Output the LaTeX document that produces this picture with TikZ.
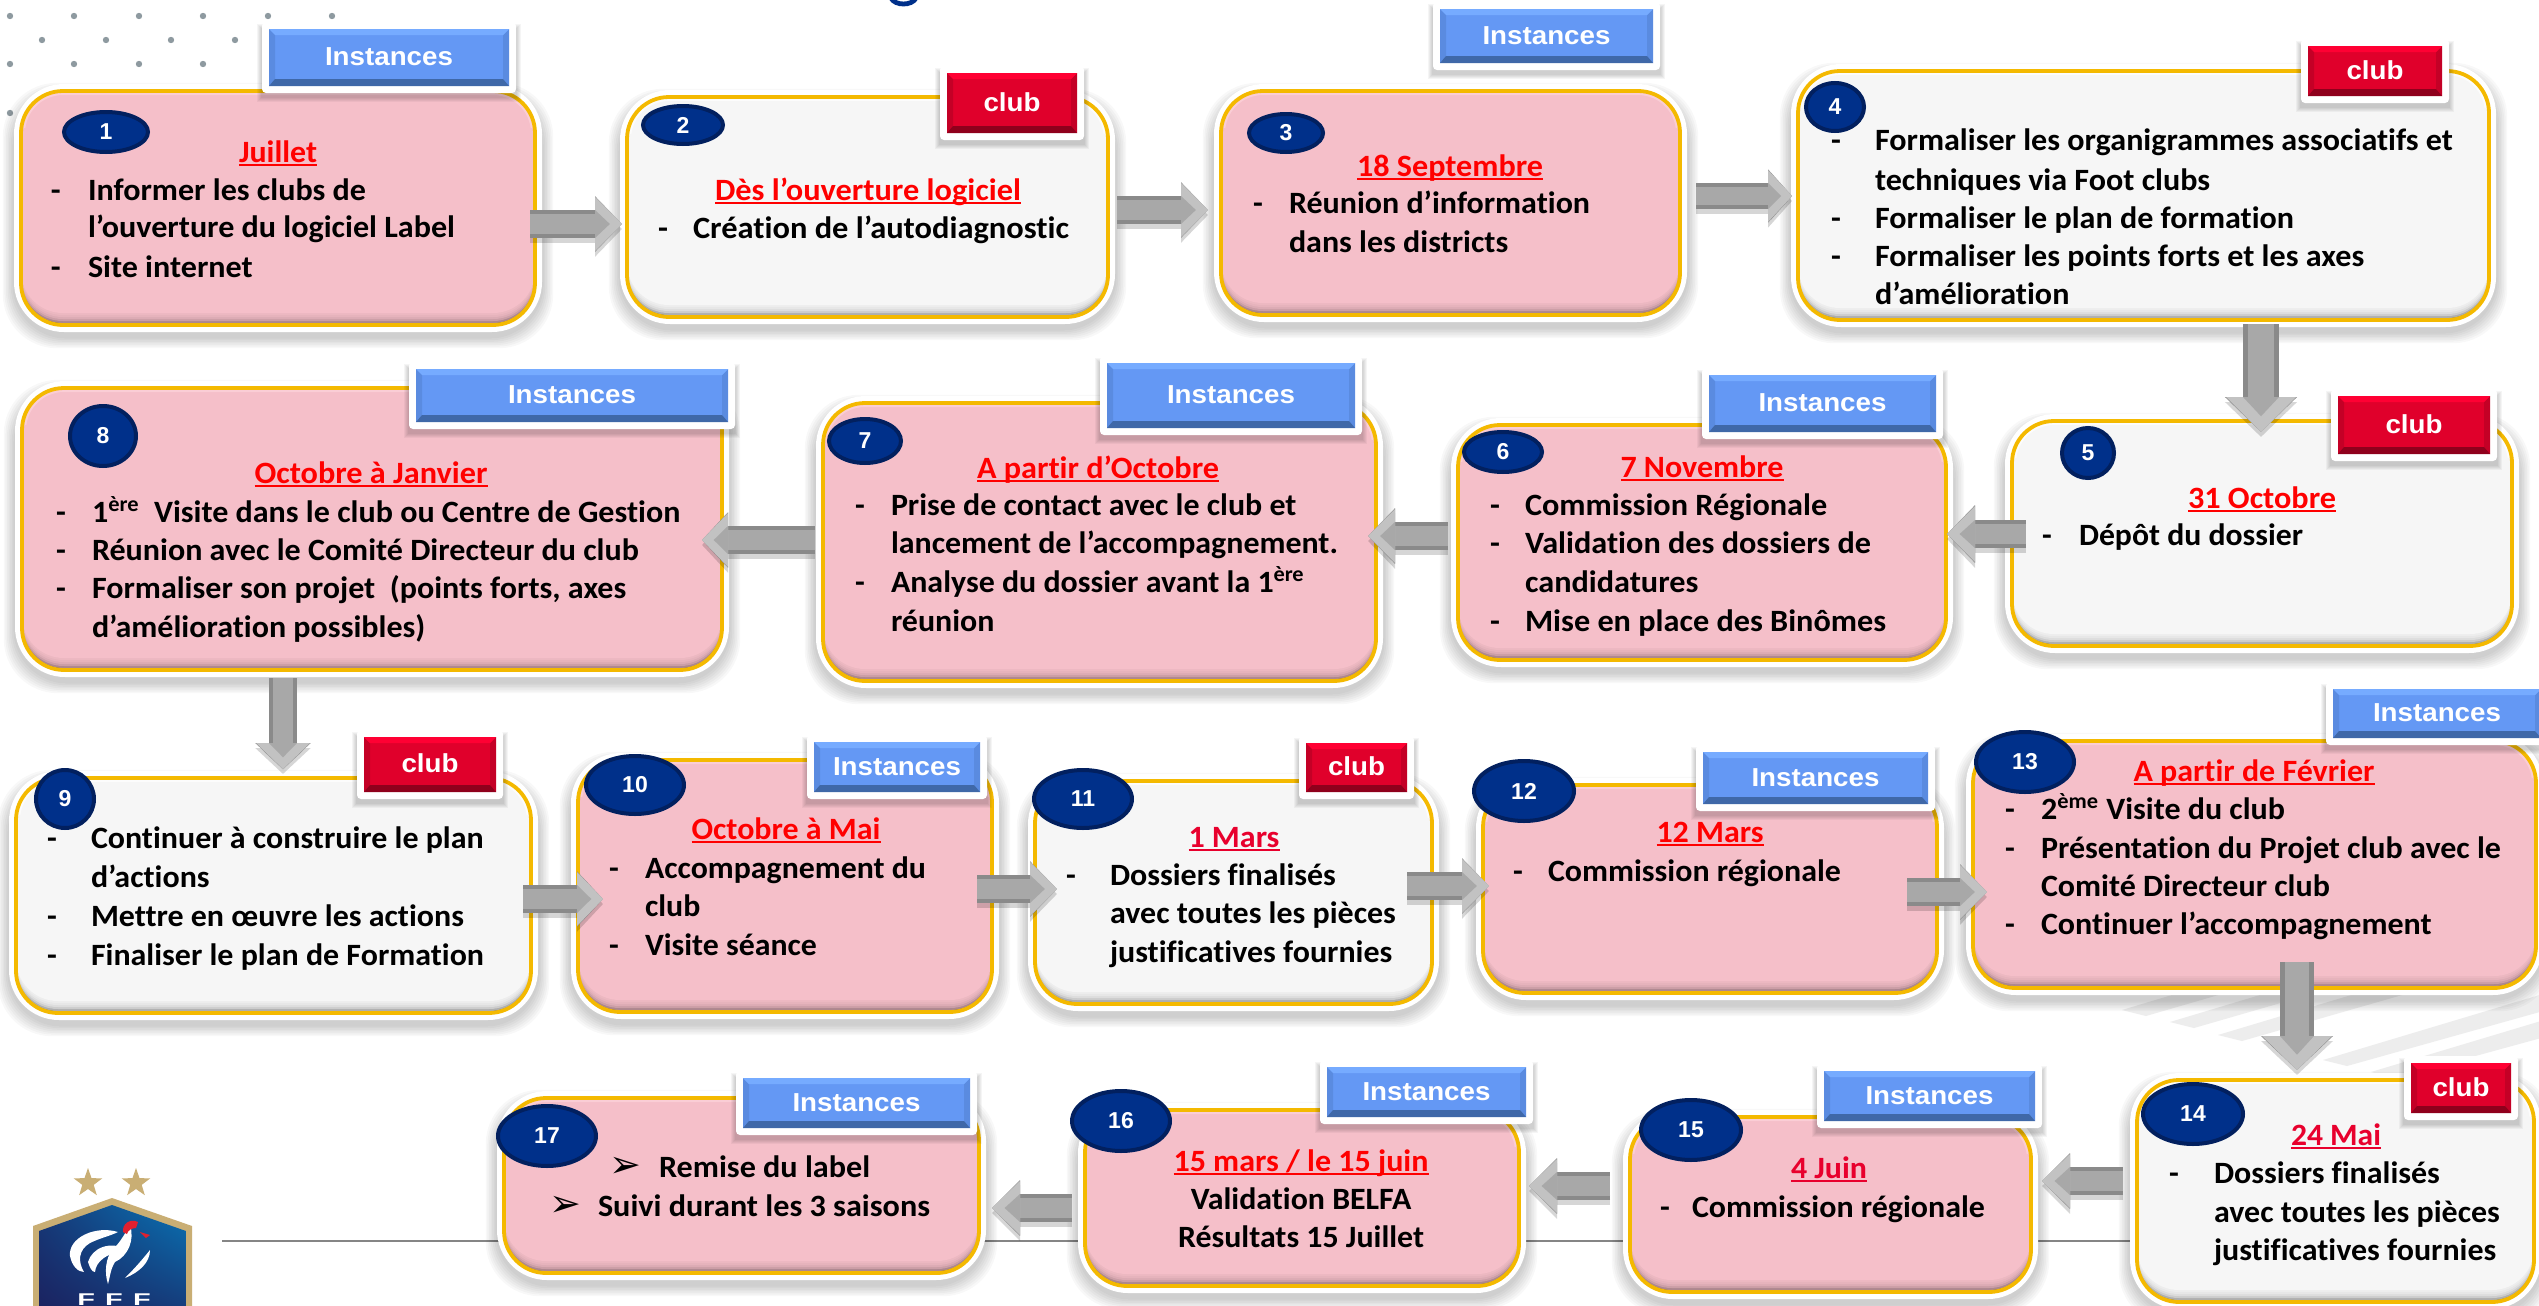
\documentclass[tikz,border=0pt]{standalone}
\usepackage{fontspec}
\usepackage{graphicx}
\setmainfont{Carlito}[Ligatures=CommonOff]
\newfontfamily\armo{Liberation Sans}
\newfontfamily\djv{DejaVu Sans}
\usetikzlibrary{arrows.meta,calc,shapes.geometric,shadings}
\definecolor{goldline}{HTML}{F4B900}
\definecolor{pinkbase}{HTML}{F5BFC9}
\definecolor{pinklight}{HTML}{FDD3DB}
\definecolor{greybase}{HTML}{F6F6F6}
\definecolor{greylight}{HTML}{FFFFFF}
\definecolor{bluebase}{HTML}{6498F4}
\definecolor{bluetop}{HTML}{76ABFF}
\definecolor{bluebot}{HTML}{3F68A8}
\definecolor{blueside}{HTML}{5A8BE0}
\definecolor{redbase}{HTML}{E0002B}
\definecolor{redtop}{HTML}{FF0033}
\definecolor{redbot}{HTML}{8F001C}
\definecolor{redside}{HTML}{C40026}
\definecolor{navyfill}{HTML}{00308A}
\definecolor{navyring}{HTML}{02205F}
\definecolor{titlered}{HTML}{FF0000}
\definecolor{titlecrim}{HTML}{E8002D}
\definecolor{dotgrey}{HTML}{8E9AA0}
\definecolor{shaftgrey}{HTML}{8A8A8A}
\definecolor{shaftlight}{HTML}{A8A8A8}
\definecolor{headlight}{HTML}{C2C2C2}
\definecolor{logogold}{HTML}{C9AE74}
\definecolor{logonavy}{HTML}{1B2260}
\definecolor{logoblue}{HTML}{0877B8}
\definecolor{logored}{HTML}{E0202F}
\definecolor{stripegrey}{HTML}{EDEDED}
\def\bodyfont{\fontsize{15.5pt}{18pt}\selectfont\bfseries}
\newcounter{tn}
\newbox\mybx
\newcommand\measure[1]{%
  \setbox\mybx=\hbox{\pgfinterruptpicture #1\endpgfinterruptpicture}%
  \edef\natw{\the\wd\mybx}%
}
\tikzset{
  txt/.style={anchor=base west,inner sep=0pt,outer sep=0pt,text=black},
  stepframe/.style={draw=goldline,line width=1.9pt,rounded corners=21pt,inner sep=0pt,outer sep=0pt},
  tagtext/.style={anchor=base,inner sep=0pt,outer sep=0pt,text=white,font=\armo\bfseries\fontsize{13pt}{15pt}\selectfont},
  numdotstyle/.style={ellipse,fill=navyfill,draw=navyring,line width=2pt,inner sep=0pt,outer sep=0pt,text=white,font=\armo\bfseries\fontsize{11.5pt}{13pt}\selectfont},
  logostar/.style={star,star points=5,star point ratio=2.5,fill=logogold,inner sep=0pt,outer sep=0pt,minimum size=15pt},
  bulletmark/.style={anchor=center,inner sep=0pt,outer sep=0pt,font=\djv\fontsize{19pt}{21pt}\selectfont}
}
% step box: name x0 x1 y0 y1 base light
\newcommand\stepbox[7]{%
  \foreach \k in {1,...,7}{\fill[black,opacity=.028,rounded corners=27pt] (#2-7-\k*1.6,#4-3-\k*1.6+6) rectangle (#3+7+\k*1.6,#5+7+\k*1.6+5);}
  \fill[white,rounded corners=25pt] (#2-7,#4-7) rectangle (#3+7,#5+7);
  \begin{scope}
    \clip[rounded corners=21pt] (#2,#4) rectangle (#3,#5);
    \fill[#6!50!black] (#2,#4) rectangle (#3,#5);
    \foreach \k in {1,...,5}{\fill[#6,opacity=.42,rounded corners=21pt] (#2,#4-2*\k) rectangle (#3,#5-2*\k);}
    \fill[#6,rounded corners=21pt] (#2,#4-12) rectangle (#3,#5-12);
    \begin{scope}
      \clip (#2,#4) rectangle (#3,#4+36);
      \draw[#7,opacity=.7,line width=4pt,rounded corners=21pt] (#2,#4) rectangle (#3,#5);
    \end{scope}
  \end{scope}
  \pgfmathsetlengthmacro\bw{(#3-#2)*0.5pt}%
  \pgfmathsetlengthmacro\bh{(#5-#4)*0.5pt}%
  \node[stepframe,minimum width=\bw,minimum height=\bh] (#1) at ({(#2+#3)/2},{(#4+#5)/2}) {};
}
% tag: name x0 x1 y0 y1 colourprefix label targetwidth
\newcommand\tagbox[8]{%
  \foreach \k in {1,...,5}{\fill[black,opacity=.04] (#2-7-\k,#4-5-\k+5) rectangle (#3+7+\k,#5+7+\k+4);}
  \fill[white,rounded corners=2pt] (#2-7,#4-7) rectangle (#3+7,#5+7);
  \fill[#6base] (#2,#4) rectangle (#3,#5);
  \fill[#6side] (#2,#4) -- (#2+6,#4+6) -- (#2+6,#5-7) -- (#2,#5) -- cycle;
  \fill[#6side] (#3,#4) -- (#3-6,#4+6) -- (#3-6,#5-7) -- (#3,#5) -- cycle;
  \fill[#6top] (#2,#4) -- (#3,#4) -- (#3-6,#4+6) -- (#2+6,#4+6) -- cycle;
  \fill[#6bot] (#2,#5) -- (#3,#5) -- (#3-6,#5-7) -- (#2+6,#5-7) -- cycle;
  \measure{\armo\bfseries\fontsize{13pt}{15pt}\selectfont #7}%
  \pgfmathsetmacro\tgs{#8*0.5/\natw}%
  \node[tagtext] (#1) at ({(#2+#3)/2},{(#4+#5)/2+8}) {\scalebox{\tgs}[1]{#7}};
}
% number ellipse: name cx cy rx ry label
\newcommand\numdot[6]{%
  \pgfmathsetlengthmacro\ew{(2*#4-4)*0.5pt}%
  \pgfmathsetlengthmacro\eh{(2*#5-4)*0.5pt}%
  \node[numdotstyle,minimum width=\ew,minimum height=\eh] (#1) at (#2,#3) {#6};
}
\newcommand\setfit[2]{%
  \measure{\bodyfont #1}%
  \pgfmathsetmacro\sx{#2*0.5/\natw}%
}
\newcommand\bodyline[3]{%
  \stepcounter{tn}%
  \node[txt] (L\thetn) at (#1,#2) {\scalebox{\sx}[1]{\bodyfont #3}};
}
\newcommand\midline[3]{%
  \stepcounter{tn}%
  \node[txt,anchor=base] (L\thetn) at (#1,#2) {\scalebox{\sx}[1]{\bodyfont #3}};
}
\newcommand\titleline[5]{%
  \measure{\bodyfont #5}%
  \pgfmathsetmacro\tsx{#3*0.5/\natw}%
  \stepcounter{tn}%
  \node[txt,anchor=base,text=#4] (L\thetn) at (#1,#2) {\scalebox{\tsx}[1]{\rlap{\rule[-1.9pt]{\natw}{1.1pt}}\bodyfont #5}};
}
% block arrow: start end shafthalf headlen headhalf
\newcommand\flowarrow[5]{%
  \pgfmathsetlengthmacro\sw{2*#3*0.5pt}%
  \pgfmathsetlengthmacro\swi{0.72*2*#3*0.5pt}%
  \pgfmathsetlengthmacro\sh{#3*0.5pt}%
  \pgfmathsetlengthmacro\hl{#4*0.5pt}%
  \pgfmathsetlengthmacro\hlt{0.45*#4*0.5pt}%
  \pgfmathsetlengthmacro\hh{#5*0.5pt}%
  \pgfmathsetlengthmacro\hw{2*#5*0.5pt}%
  \coordinate (hb) at ($(#2)!\hl!(#1)$);
  \coordinate (ht) at ($(#2)!\hlt!(#1)$);
  \draw[black,opacity=.16,line width=\sw,-{Triangle[length=\hl,width=\hw]},transform canvas={yshift=-2.5pt}] (#1) -- (#2);
  \draw[shaftgrey,line width=\sw,-{Triangle[length=\hl,width=\hw]}] (#1) -- (#2);
  \draw[shaftlight,line width=\swi] (#1) -- (hb);
  \fill[headlight] ($(hb)!\hh!90:(#2)$) -- (#2) -- ($(hb)!\hh!-90:(#2)$) -- cycle;
  \fill[shaftlight] ($(hb)!\sh!90:(#2)$) -- (ht) -- ($(hb)!\sh!-90:(#2)$) -- cycle;
}
\begin{document}
\begin{tikzpicture}[x=0.5pt,y=-0.5pt]
\clip (0,0) rectangle (2539,1306);
\fill[white] (0,0) rectangle (2539,1306);
% dots
\foreach \px in {10,74,139,203,268,332}{\fill[dotgrey] (\px,16) circle (1.6pt);}
\foreach \px in {42,106,171,235}{\fill[dotgrey] (\px,40) circle (1.6pt);}
\foreach \px in {10,74,139,203}{\fill[dotgrey] (\px,64) circle (1.6pt);}
\fill[dotgrey] (10,113) circle (1.6pt);
% clipped title descender
\draw[navyfill,line width=2.4pt] (891,-2) .. controls (895,6) and (912,6) .. (916,-2);
% stripes
\foreach \sa/\sb in {2122/1010,2170/1022,2218/1035,2323/1060,2371/1072}{
  \fill[stripegrey] (\sa,\sb) -- (2539,{\sb-0.3*(2539-\sa)}) -- (2539,{\sb-0.3*(2539-\sa)+17}) -- (\sa+24,\sb+6) -- cycle;
}
% base line
\coordinate (lineL) at (222,1241);
\coordinate (lineR) at (2150,1241);
\draw[black!48,line width=1.3pt] (lineL) -- (lineR);
% logo
\fill[logogold] (112,1198) -- (192,1226) -- (192,1310) -- (33,1310) -- (33,1226) -- cycle;
\begin{scope}
  \clip (112,1205) -- (186,1231) -- (186,1310) -- (39,1310) -- (39,1231) -- cycle;
  \shade[lower left=logonavy,lower right=logonavy!70!logoblue,upper right=logoblue,upper left=logonavy!70!logoblue] (39,1198) rectangle (186,1310);
\end{scope}
\fill[white] (118,1232) .. controls (95,1225) and (68,1238) .. (70,1256) .. controls (72,1266) and (78,1272) .. (84,1272) .. controls (78,1262) and (78,1250) .. (90,1243) .. controls (100,1238) and (110,1236) .. (118,1232) -- cycle;
\fill[white] (128,1250) .. controls (110,1240) and (92,1248) .. (88,1262) .. controls (90,1268) and (92,1272) .. (95,1272) .. controls (96,1262) and (105,1253) .. (128,1250) -- cycle;
\fill[white] (130,1225) .. controls (135,1240) and (128,1256) .. (115,1262) .. controls (110,1270) and (110,1278) .. (108,1284) .. controls (104,1272) and (106,1258) .. (112,1250) .. controls (120,1243) and (124,1235) .. (130,1225) -- cycle;
\fill[white] (150,1250) .. controls (150,1262) and (140,1272) .. (125,1278) .. controls (135,1268) and (142,1260) .. (150,1250) -- cycle;
\fill[logored] (123,1232) .. controls (122,1224) and (130,1218) .. (138,1222) -- (136,1228) .. controls (132,1228) and (128,1230) .. (127,1234) -- cycle;
\fill[logored] (140,1232) -- (150,1235) -- (146,1238) -- cycle;
\node[logostar] (star1) at (88,1183) {};
\node[logostar] (star2) at (136,1183) {};
\node[anchor=base,inner sep=0pt,text=white,font=\armo\bfseries\fontsize{8.5pt}{10pt}\selectfont] (fff) at (114,1305) {\scalebox{1.7}[1]{F\hspace{3pt}F\hspace{3pt}F}};
% boxes
\stepbox{b1}{21}{535}{91}{325}{pinkbase}{pinklight}
\stepbox{b2}{627}{1108}{97}{317}{greybase}{greylight}
\stepbox{b3}{1221}{1680}{91}{315}{pinkbase}{pinklight}
\stepbox{b4}{1798}{2489}{71}{320}{greybase}{greylight}
\stepbox{b5}{2012}{2512}{421}{646}{greybase}{greylight}
\stepbox{b6}{1458}{1946}{425}{660}{pinkbase}{pinklight}
\stepbox{b7}{823}{1376}{403}{681}{pinkbase}{pinklight}
\stepbox{b8}{22}{722}{388}{670}{pinkbase}{pinklight}
\stepbox{b9}{16}{531}{778}{1013}{greybase}{greylight}
\stepbox{b10}{578}{992}{760}{1012}{pinkbase}{pinklight}
\stepbox{b11}{1035}{1432}{781}{1004}{greybase}{greylight}
\stepbox{b12}{1483}{1937}{785}{993}{pinkbase}{pinklight}
\stepbox{b13}{1973}{2536}{741}{988}{pinkbase}{pinklight}
\stepbox{b14}{2137}{2534}{1080}{1302}{greybase}{greylight}
\stepbox{b15}{1630}{2031}{1117}{1292}{pinkbase}{pinklight}
\stepbox{b16}{1085}{1519}{1110}{1286}{pinkbase}{pinklight}
\stepbox{b17}{504}{979}{1098}{1273}{pinkbase}{pinklight}
% arrows
\coordinate (a1s) at (530,224);   \coordinate (a1e) at (622,224);
\coordinate (a2s) at (1117,210);  \coordinate (a2e) at (1208,210);
\coordinate (a3s) at (1696,196);  \coordinate (a3e) at (1792,196);
\coordinate (a4s) at (2261,324);  \coordinate (a4e) at (2261,432);
\coordinate (a5s) at (2026,534);  \coordinate (a5e) at (1947,534);
\coordinate (a6s) at (1448,536);  \coordinate (a6e) at (1368,536);
\coordinate (a7s) at (815,540);   \coordinate (a7e) at (702,540);
\coordinate (a8s) at (283,678);   \coordinate (a8e) at (283,769);
\coordinate (a9s) at (523,899);   \coordinate (a9e) at (603,899);
\coordinate (a10s) at (977,889);  \coordinate (a10e) at (1057,889);
\coordinate (a11s) at (1407,886); \coordinate (a11e) at (1489,886);
\coordinate (a12s) at (1907,892); \coordinate (a12e) at (1987,892);
\coordinate (a13s) at (2297,962); \coordinate (a13e) at (2297,1070);
\coordinate (a14s) at (2123,1181);\coordinate (a14e) at (2042,1181);
\coordinate (a15s) at (1610,1186);\coordinate (a15e) at (1529,1186);
\coordinate (a16s) at (1072,1208);\coordinate (a16e) at (992,1208);
\flowarrow{a1s}{a1e}{14}{27}{27}
\flowarrow{a2s}{a2e}{14}{27}{27}
\flowarrow{a3s}{a3e}{13}{24}{26}
\flowarrow{a4s}{a4e}{18}{35}{35}
\flowarrow{a5s}{a5e}{14}{28}{28}
\flowarrow{a6s}{a6e}{14}{27}{27}
\flowarrow{a7s}{a7e}{14}{26}{27}
\flowarrow{a8s}{a8e}{14}{26}{27}
\flowarrow{a9s}{a9e}{14}{26}{27}
\flowarrow{a10s}{a10e}{14}{27}{27}
\flowarrow{a11s}{a11e}{14}{27}{27}
\flowarrow{a12s}{a12e}{14}{27}{27}
\flowarrow{a13s}{a13e}{17}{34}{35}
\flowarrow{a14s}{a14e}{14}{28}{27}
\flowarrow{a15s}{a15e}{14}{28}{27}
\flowarrow{a16s}{a16e}{14}{28}{27}
% tags
\tagbox{t1}{269}{509}{29}{86}{blue}{Instances}{128}
\tagbox{t2}{947}{1077}{73}{133}{red}{club}{57}
\tagbox{t3}{1440}{1653}{9}{63}{blue}{Instances}{128}
\tagbox{t4}{2308}{2442}{46}{96}{red}{club}{57}
\tagbox{t5}{2338}{2490}{396}{454}{red}{club}{57}
\tagbox{t6}{1709}{1936}{375}{432}{blue}{Instances}{128}
\tagbox{t7}{1107}{1355}{363}{428}{blue}{Instances}{128}
\tagbox{t8}{416}{728}{369}{422}{blue}{Instances}{128}
\tagbox{t9}{364}{496}{737}{792}{red}{club}{57}
\tagbox{t10}{814}{980}{742}{792}{blue}{Instances}{128}
\tagbox{t11}{1306}{1407}{743}{792}{red}{club}{57}
\tagbox{t12}{1703}{1928}{752}{804}{blue}{Instances}{128}
\tagbox{t13}{2333}{2541}{689}{738}{blue}{Instances}{128}
\tagbox{t14}{2411}{2511}{1063}{1113}{red}{club}{57}
\tagbox{t15}{1824}{2035}{1071}{1121}{blue}{Instances}{128}
\tagbox{t16}{1327}{1526}{1067}{1117}{blue}{Instances}{128}
\tagbox{t17}{743}{970}{1078}{1128}{blue}{Instances}{128}
% numbers
\numdot{n1}{106}{132}{44}{22}{1}
\numdot{n2}{683}{125}{42}{21}{2}
\numdot{n3}{1286}{133}{39}{21}{3}
\numdot{n4}{1835}{107}{31}{26}{4}
\numdot{n5}{2088}{453}{28}{27}{5}
\numdot{n6}{1503}{452}{41}{22}{6}
\numdot{n7}{865}{441}{38}{24}{7}
\numdot{n8}{103}{436}{35}{32}{8}
\numdot{n9}{65}{799}{31}{31}{9}
\numdot{n10}{635}{785}{51}{31}{10}
\numdot{n11}{1083}{799}{51}{31}{11}
\numdot{n12}{1524}{791}{52}{32}{12}
\numdot{n13}{2025}{762}{51}{32}{13}
\numdot{n14}{2193}{1114}{52}{32}{14}
\numdot{n15}{1691}{1130}{52}{32}{15}
\numdot{n16}{1121}{1121}{51}{32}{16}
\numdot{n17}{547}{1136}{51}{32}{17}
% text box 1
\setfit{l’ouverture du logiciel Label}{367}
\titleline{278}{162}{78}{titlered}{Juillet}
\bodyline{51}{200}{-}\bodyline{88}{200}{Informer les clubs de}
\bodyline{88}{237}{l’ouverture du logiciel Label}
\bodyline{51}{277}{-}\bodyline{88}{277}{Site internet}
% box 2
\setfit{Création de l’autodiagnostic}{376}
\titleline{868}{200}{306}{titlered}{Dès l’ouverture logiciel}
\bodyline{658}{238}{-}\bodyline{693}{238}{Création de l’autodiagnostic}
% box 3
\setfit{Réunion d’information}{301}
\titleline{1450}{176}{186}{titlered}{18 Septembre}
\bodyline{1253}{213}{-}\bodyline{1289}{213}{Réunion d’information}
\bodyline{1289}{252}{dans les districts}
% box 4
\setfit{Formaliser les organigrammes associatifs et}{578}
\bodyline{1831}{150}{-}\bodyline{1875}{150}{Formaliser les organigrammes associatifs et}
\bodyline{1875}{190}{techniques via Foot clubs}
\bodyline{1831}{228}{-}\bodyline{1875}{228}{Formaliser le plan de formation}
\bodyline{1831}{266}{-}\bodyline{1875}{266}{Formaliser les points forts et les axes}
\bodyline{1875}{304}{d’amélioration}
% box 5
\setfit{Dépôt du dossier}{224}
\titleline{2262}{508}{148}{titlered}{31 Octobre}
\bodyline{2042}{545}{-}\bodyline{2079}{545}{Dépôt du dossier}
% box 6
\setfit{Validation des dossiers de}{346}
\titleline{1702}{477}{163}{titlered}{7 Novembre}
\bodyline{1490}{515}{-}\bodyline{1525}{515}{Commission Régionale}
\bodyline{1490}{553}{-}\bodyline{1525}{553}{Validation des dossiers de}
\bodyline{1525}{592}{candidatures}
\bodyline{1490}{631}{-}\bodyline{1525}{631}{Mise en place des Binômes}
% box 7
\setfit{lancement de l’accompagnement.}{447}
\titleline{1098}{478}{242}{titlered}{A partir d’Octobre}
\bodyline{855}{515}{-}\bodyline{891}{515}{Prise de contact avec le club et}
\bodyline{891}{553}{lancement de l’accompagnement.}
\bodyline{855}{592}{-}\bodyline{891}{592}{Analyse du dossier avant la 1\textsuperscript{ère}}
\bodyline{891}{631}{réunion}
% box 8
\setfit{Réunion avec le Comité Directeur du club}{547}
\titleline{371}{483}{233}{titlered}{Octobre à Janvier}
\bodyline{56}{522}{-}\bodyline{92}{522}{1\textsuperscript{ère}\ \ Visite dans le club ou Centre de Gestion}
\bodyline{56}{560}{-}\bodyline{92}{560}{Réunion avec le Comité Directeur du club}
\bodyline{56}{598}{-}\bodyline{92}{598}{Formaliser son projet\ \ (points forts, axes}
\bodyline{92}{637}{d’amélioration possibles)}
% box 9
\setfit{Finaliser le plan de Formation}{393}
\bodyline{47}{848}{-}\bodyline{91}{848}{Continuer à construire le plan}
\bodyline{91}{887}{d’actions}
\bodyline{47}{926}{-}\bodyline{91}{926}{Mettre en œuvre les actions}
\bodyline{47}{965}{-}\bodyline{91}{965}{Finaliser le plan de Formation}
% box 10
\setfit{Accompagnement du}{281}
\titleline{786}{839}{189}{titlered}{Octobre à Mai}
\bodyline{609}{878}{-}\bodyline{645}{878}{Accompagnement du}
\bodyline{645}{916}{club}
\bodyline{609}{955}{-}\bodyline{645}{955}{Visite séance}
% box 11
\setfit{avec toutes les pièces}{286}
\titleline{1234}{847}{91}{titlecrim}{1 Mars}
\bodyline{1066}{885}{-}\bodyline{1110}{885}{Dossiers finalisés}
\bodyline{1110}{923}{avec toutes les pièces}
\bodyline{1110}{962}{justificatives fournies}
% box 12
\setfit{Commission régionale}{293}
\titleline{1710}{842}{107}{titlered}{12 Mars}
\bodyline{1513}{881}{-}\bodyline{1548}{881}{Commission régionale}
% box 13
\setfit{Présentation du Projet club avec le}{460}
\titleline{2254}{781}{241}{titlered}{A partir de Février}
\bodyline{2005}{819}{-}\bodyline{2041}{819}{2\textsuperscript{ème} Visite du club}
\bodyline{2005}{858}{-}\bodyline{2041}{858}{Présentation du Projet club avec le}
\bodyline{2041}{896}{Comité Directeur club}
\bodyline{2005}{934}{-}\bodyline{2041}{934}{Continuer l’accompagnement}
% box 14
\setfit{avec toutes les pièces}{286}
\titleline{2336}{1145}{90}{titlecrim}{24 Mai}
\bodyline{2169}{1183}{-}\bodyline{2214}{1183}{Dossiers finalisés}
\bodyline{2214}{1222}{avec toutes les pièces}
\bodyline{2214}{1260}{justificatives fournies}
% box 15
\setfit{Commission régionale}{293}
\titleline{1829}{1178}{76}{titlecrim}{4 Juin}
\bodyline{1660}{1217}{-}\bodyline{1692}{1217}{Commission régionale}
% box 16
\setfit{Résultats 15 Juillet}{246}
\titleline{1301}{1171}{255}{titlered}{15 mars / le 15 juin}
\midline{1301}{1209}{Validation BELFA}
\midline{1301}{1247}{Résultats 15 Juillet}
% box 17
\setfit{Suivi durant les 3 saisons}{332}
\node[bulletmark] (bu1) at (625,1167) {➢};
\bodyline{659}{1177}{Remise du label}
\node[bulletmark] (bu2) at (565,1206) {➢};
\bodyline{598}{1216}{Suivi durant les 3 saisons}
\end{tikzpicture}
\end{document}
